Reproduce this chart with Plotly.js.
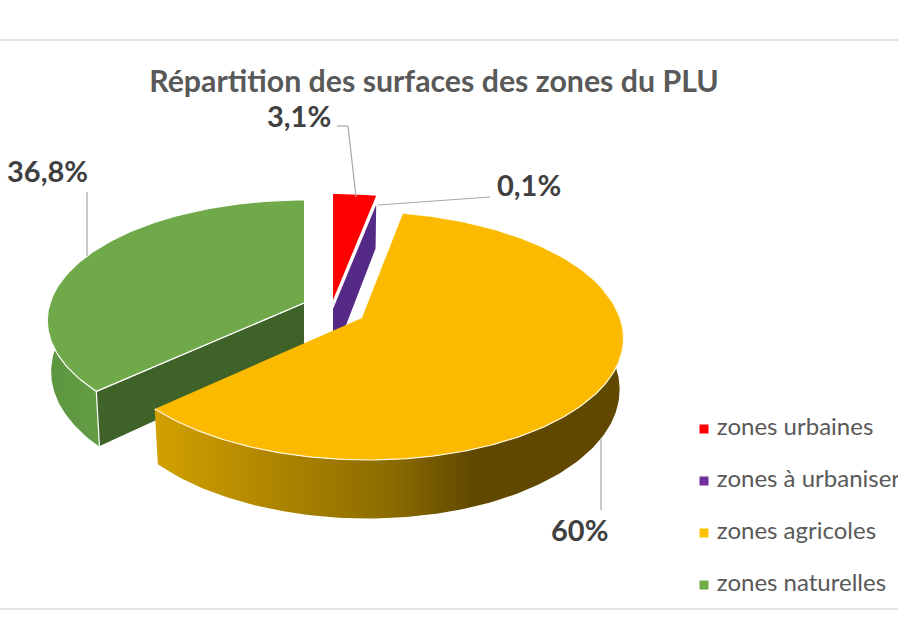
<!DOCTYPE html>
<html><head><meta charset="utf-8">
<script src="https://cdn.plot.ly/plotly-3.0.1.min.js"></script>
<style>html,body{margin:0;padding:0;background:#fff;overflow:hidden}#c{width:898px;height:620px}</style>
</head><body><div id="c"></div>
<script>
const categories = ['zones urbaines','zones à urbaniser','zones agricoles','zones naturelles'];
const values = [3.1, 0.1, 60, 36.8];
const valueLabels = ['3,1%','0,1%','60%','36,8%'];
const colors = ['#ff0000','#552a87','#fbba00','#6fa94a'];
const legendColors = ['#ff0000','#7030a0','#ffc000','#70ad47'];
const centers = [[333,300],[333,309],[362,318],[304,303]];
const radiiX = [255,255,258,254];
const radiiY = [121.4,121.4,121.4,118];
const shear = [0,0,0.04,0];
const labelPos = [[299,115.5],[529,184.5],[579,529.5],[47,170.5]];

const K=0.145,D=50;
function pt(i,deg,low){
  const c=centers[i],t=deg*Math.PI/180,u=Math.sin(t),v=-Math.cos(t),w=1-K*v;
  const sx=low?0.985:1,dy=radiiY[i]*v/w;
  return [c[0]+sx*radiiX[i]*u/w+shear[i]*dy, c[1]+dy+(low?D/w:0)];
}
function arc(i,a,b,low){
  const n=Math.max(2,Math.ceil(Math.abs(b-a))),o=[];
  for(let j=0;j<=n;j++)o.push(pt(i,a+(b-a)*j/n,low));
  return o;
}
function poly(points,color,lineColor,extra){
  return Object.assign({type:'scatter',mode:'lines',hoverinfo:'skip',showlegend:false,
    x:points.map(p=>p[0]),y:points.map(p=>p[1]),fill:'toself',fillcolor:color,
    line:{color:lineColor||color,width:lineColor?1.2:0}},extra||{});
}
const total=values.reduce((a,b)=>a+b,0);
let acc=0;const ang=values.map(v=>{const s=acc/total*360;acc+=v;return [s,acc/total*360];});
const traces=[];
// zones naturelles
{const c=centers[3],[a,b]=ang[3];
 traces.push(poly(arc(3,a,b,false).concat(arc(3,b,a,true)),'#5f9a41',null,
   {fillgradient:{type:'horizontal',colorscale:[[0,'#5c953f'],[0.25,'#659f46'],[1,'#659f46']]}}));
 traces.push(poly([c,pt(3,a,false),pt(3,a,true),[c[0],c[1]+D]],'#3f6228','#ffffff'));
 traces.push(poly([c].concat(arc(3,a,b,false)),colors[3],'#ffffff'));}
// zones urbaines
{const c=centers[0],[a,b]=ang[0];
 traces.push(poly([c].concat(arc(0,a,b,false)),colors[0]));}
// zones à urbaniser
{const c=centers[1],[a]=ang[1];
 traces.push(poly([c,pt(1,a,false),pt(1,a,true),[c[0],c[1]+D]],colors[1]));}
// zones agricoles
{const c=centers[2],[a,b]=ang[2];
 traces.push(poly(arc(2,a,b,false).concat(arc(2,b,a,true)),'#8c6c00',null,
   {fillgradient:{type:'horizontal',colorscale:[[0,'#d2a000'],[0.5,'#8c6c00'],[0.68,'#604800'],[1,'#604800']]}}));
 traces.push(poly([c].concat(arc(2,a,b,false)),colors[2],'#fff7d8'));
 traces.push(poly([c].concat(arc(2,a,a+65,false)),colors[2]));}
// légende
traces.push({type:'scatter',mode:'markers+text',hoverinfo:'skip',showlegend:false,
  x:[704,704,704,704],y:[429,481,533,585],text:categories.map(s=>'&nbsp;'+s),textposition:'middle right',
  marker:{symbol:'square',size:9,color:legendColors},
  textfont:{family:'Lato, sans-serif',size:24,color:'#595959'},cliponaxis:false});

const line=(x0,y0,x1,y1,col,w)=>({type:'line',xref:'x',yref:'y',x0,y0,x1,y1,line:{color:col,width:w},layer:'above'});
const layout={width:898,height:620,margin:{l:0,r:0,t:0,b:0},paper_bgcolor:'#fff',plot_bgcolor:'#fff',showlegend:false,
  xaxis:{range:[0,898],visible:false,fixedrange:true},
  yaxis:{range:[620,0],visible:false,fixedrange:true},
  title:{text:'<b>Répartition des surfaces des zones du PLU</b>',x:434/898,xanchor:'center',y:1-81/620,yanchor:'middle',
    font:{family:'Lato, sans-serif',size:30.3,color:'#595959'}},
  shapes:[line(0,40,898,40,'#d9d9d9',1.5),line(0,609,898,609,'#d9d9d9',1.5),
    line(337,126,348,126,'#a6a6a6',1.2),line(348,126,356,197,'#a6a6a6',1.2),
    line(490,197,378,205,'#a6a6a6',1.2),
    line(87,192,87,256,'#a6a6a6',1.2),
    line(601,438,601,510,'#a6a6a6',1.2)],
  annotations:valueLabels.map((t,i)=>({text:'<b>'+t+'</b>',x:labelPos[i][0],y:labelPos[i][1],xref:'x',yref:'y',showarrow:false,
    xanchor:'center',yanchor:'middle',font:{family:'Lato, sans-serif',size:29,color:'#404040'}}))};
Plotly.newPlot('c',traces,layout,{displayModeBar:false,staticPlot:true});
</script></body></html>
